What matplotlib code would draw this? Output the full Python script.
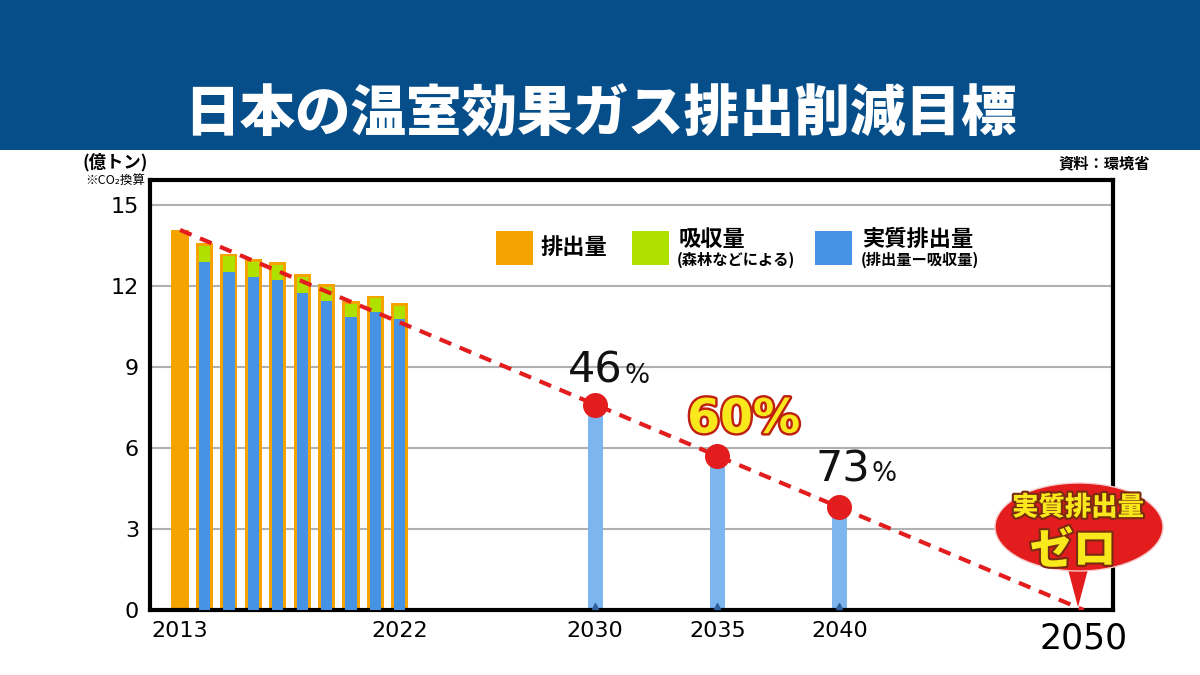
import matplotlib
matplotlib.use("Agg")
import matplotlib.pyplot as plt
import matplotlib.patches as mpatches
import matplotlib.patheffects as pe
import numpy as np

plt.rcParams['font.family'] = ['DejaVu Sans', 'Noto Sans CJK JP']
JP = ['Noto Sans CJK JP', 'DejaVu Sans']

# 実績 (億トン, CO2換算)
years = [2013, 2014, 2015, 2016, 2017, 2018, 2019, 2020, 2021, 2022]
emissions = [14.08, 13.60, 13.20, 13.00, 12.88, 12.44, 12.07, 11.44, 11.65, 11.37]
net_years = [2014, 2015, 2016, 2017, 2018, 2019, 2020, 2021, 2022]
net_emissions = [12.88, 12.53, 12.35, 12.21, 11.75, 11.44, 10.84, 11.03, 10.78]

# 目標
target_years = [2030, 2035, 2040]
target_values = [7.6, 5.7, 3.8]
target_labels = ['46', '60', '73']

path_years = [2013, 2050]
path_values = [14.08, 0]

xticks = [2013, 2022, 2030, 2035, 2040, 2050]
yticks = [0, 3, 6, 9, 12, 15]

ORANGE = '#f5a300'
GREEN = '#aee000'
BLUE = '#4693e6'
LIGHTBLUE = '#7db6ef'
RED = '#e31d1d'

fig = plt.figure(figsize=(12, 6.75), dpi=100)
fig.patch.set_facecolor('white')

# タイトル帯
fig.add_artist(mpatches.Rectangle((0, 0.778), 1, 0.222, transform=fig.transFigure,
                                  facecolor='#054e8a', edgecolor='none', zorder=0))
fig.text(0.5, 0.83, '日本の温室効果ガス排出削減目標', ha='center', va='center',
         color='white', fontsize=40, fontweight='black', family=JP)

ax = fig.add_axes([0.125, 0.0963, 0.8025, 0.637])
ax.set_xlim(2011.77, 2051.2)
ax.set_ylim(0, 15.93)

ax.yaxis.grid(True, color='#b0b0b0', linewidth=1.5)
ax.set_axisbelow(True)
for s in ax.spines.values():
    s.set_linewidth(3)
    s.set_color('black')

# 棒グラフ
ax.bar(years, emissions, width=0.7, color=ORANGE, zorder=2)
net_top = dict(zip(years, emissions))
green_h = [net_top[y] - 0.1 - n for y, n in zip(net_years, net_emissions)]
ax.bar(net_years, net_emissions, width=0.46, color=BLUE, zorder=3)
ax.bar(net_years, green_h, bottom=net_emissions, width=0.46, color=GREEN, zorder=3)

ax.bar(target_years, target_values, width=0.62, color=LIGHTBLUE, zorder=2)
ax.plot(target_years, [0.15] * 3, linestyle='none', marker='^', markersize=5,
        color='#2f5f9f', zorder=4)

# 削減経路
ax.plot(path_years, path_values, color=RED, linewidth=3, dashes=(3, 2.2), zorder=5)
ax.plot(target_years, target_values, linestyle='none', marker='o', markersize=17,
        color=RED, zorder=6)

# 削減率ラベル
for yr, val, lab in zip(target_years, target_values, target_labels):
    if lab == '60':
        ax.annotate(lab + '%', (yr, val), xytext=(19, 17), textcoords='offset points',
                    ha='center', va='baseline', fontsize=34, fontweight='bold',
                    color='#f8e81c', zorder=7,
                    path_effects=[pe.withStroke(linewidth=3.5, foreground='#c0200f')])
    else:
        dx = 20 if lab == '46' else 22
        dy = 16 if lab == '46' else 19
        ax.annotate(lab, (yr, val), xytext=(dx, dy), textcoords='offset points',
                    ha='right', va='baseline', fontsize=31, color='#111111', zorder=7)
        ax.annotate('%', (yr, val), xytext=(dx + 1, dy), textcoords='offset points',
                    ha='left', va='baseline', fontsize=19, color='#111111', zorder=7)

ax.set_yticks(yticks)
ax.set_yticklabels([str(v) for v in yticks], fontsize=16)
ax.set_xticks(xticks)
ax.set_xticklabels([str(v) for v in xticks], fontsize=16)
ax.tick_params(length=0, pad=8)
ax.get_xticklabels()[-1].set_fontsize(25)

# 単位と出典
fig.text(0.096, 0.76, '(億トン)', ha='center', va='center', fontsize=12.5,
         fontweight='bold', family=JP)
fig.text(0.096, 0.733, '※CO₂換算', ha='center', va='center', fontsize=9,
         family=JP)
fig.text(0.958, 0.758, '資料：環境省', ha='right', va='center', fontsize=11,
         fontweight='bold', family=JP)

# 凡例
def legend_box(x0, color):
    fig.add_artist(mpatches.Rectangle((x0 / 1200, 1 - 265 / 675), 37 / 1200, 34 / 675,
                                      transform=fig.transFigure, facecolor=color,
                                      edgecolor='none'))

legend_box(496, ORANGE)
legend_box(632, GREEN)
legend_box(815, BLUE)
fig.text(541 / 1200, 1 - 247 / 675, '排出量', ha='left', va='center', fontsize=16,
         fontweight='bold', family=JP)
fig.text(679 / 1200, 1 - 239 / 675, '吸収量', ha='left', va='center', fontsize=16,
         fontweight='bold', family=JP)
fig.text(677 / 1200, 1 - 260 / 675, '(森林などによる)', ha='left', va='center',
         fontsize=11, fontweight='bold', family=JP)
fig.text(862 / 1200, 1 - 239 / 675, '実質排出量', ha='left', va='center', fontsize=16,
         fontweight='bold', family=JP)
fig.text(861 / 1200, 1 - 260 / 675, '(排出量ー吸収量)', ha='left', va='center',
         fontsize=11, fontweight='bold', family=JP)

# 吹き出し
fig.add_artist(mpatches.Polygon([(1066 / 1200, 1 - 562 / 675), (1090 / 1200, 1 - 562 / 675),
                                 (1078 / 1200, 1 - 607 / 675)], closed=True,
                                transform=fig.transFigure, facecolor=RED, edgecolor='none'))
fig.add_artist(mpatches.Ellipse((1079 / 1200, 1 - 527 / 675), 168 / 1200, 88 / 675,
                                transform=fig.transFigure, facecolor=RED,
                                edgecolor='#f6c9c9', linewidth=1))
stroke = [pe.withStroke(linewidth=3, foreground='#7a2a10')]
fig.text(1078 / 1200, 1 - 507 / 675, '実質排出量', ha='center', va='center', fontsize=19,
         fontweight='black', color='#f8e81c', family=JP, path_effects=stroke)
fig.text(1073 / 1200, 1 - 551 / 675, 'ゼロ', ha='center', va='center', fontsize=31,
         fontweight='black', color='#f8e81c', family=JP, path_effects=stroke)

fig.savefig('out.png', dpi=100)
